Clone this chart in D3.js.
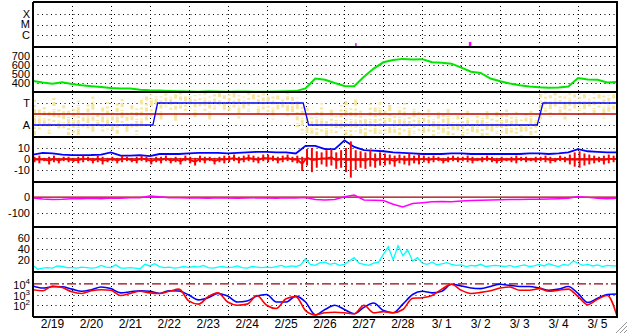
<!DOCTYPE html>
<html>
<head>
<meta charset="utf-8">
<script src="https://cdn.jsdelivr.net/npm/d3@7"></script>
<style>
  body { margin: 0; background: #fff; }
  svg { display: block; font-family: "Liberation Sans", Arial, sans-serif; }
</style>
</head>
<body>
<div id="chart"></div>
<script>
// ---- data (day 0 = 2/19 00:00, 15 days) ----
var dayLabels = ["2/19","2/20","2/21","2/22","2/23","2/24","2/25","2/26","2/27","2/28","3/ 1","3/ 2","3/ 3","3/ 4","3/ 5"];

// X-ray events (day, flux W/m2)
var flareDay = [8.3, 11.22];
var flareFlux = [1.7e-7, 2.2e-7];

// solar wind speed, every 6h (km/s)
var speed6h = [422,405,392,408, 390,375,365,355, 345,340,338,325, 320,318,312,308,
               306,304,308,305, 303,305,306,302, 304,306,308,310, 340,450,435,400,
               368,365,470,560, 630,655,668,660, 665,630,625,615, 570,525,512,450,
               420,395,375,362, 352,348,350,360, 455,440,435,405, 412];

// sector polarity (T = 1, A = -1)
var sectorDay = [0, 3.08, 3.2, 6.94, 7.08, 12.95, 13.1, 15];
var sectorVal = [-1, -1, 1, 1, -1, -1, 1, 1];

// phi angle spread per 3h bin (same units as sector)
var phiLo = [-1.9,-1.5,-1.2,-1.8,-1.0,-1.6,-1.3,-1.9, -1.7,-1.9,-1.2,-1.5,-1.8,-1.0,-1.6,-1.4,
             -1.5,-1.8,-0.9,-1.7,-1.2,-1.9,-1.4,-0.6, -0.2,0.4,-0.5,0.6,0.2,-0.8,0.5,0.3,
             0.5,-0.3,0.7,0.2,-0.6,0.4,0.8,0.1, 0.3,0.6,-0.4,0.5,0.2,0.7,-0.2,0.4,
             0.2,-0.5,0.4,0.6,-0.3,0.1,-1.2,-1.8, -2.0,-1.8,-1.9,-1.6,-2.0,-1.7,-1.9,-1.5,
             -1.9,-2.0,-1.6,-1.8,-2.0,-1.7,-1.9,-1.8, -1.8,-2.0,-1.7,-1.9,-1.6,-2.0,-1.8,-1.7,
             -1.9,-1.6,-2.0,-1.8,-1.7,-1.9,-2.0,-1.6, -2.0,-1.8,-1.9,-1.7,-2.0,-1.9,-1.6,-1.8,
             -1.9,-2.0,-1.7,-1.8,-2.0,-1.6,-1.9,-1.8, -0.6,0.2,-0.3,0.4,0.1,-0.5,0.3,0.5,
             0.3,-0.2,0.5,0.1,0.6,-0.4,0.2,0.4, 0.2];
var phiHi = [1.3,0.6,0.9,0.2,1.5,0.4,0.8,0.3, 0.5,1.2,0.3,0.9,1.6,0.2,0.7,1.1,
             0.4,1.0,1.5,0.3,0.8,0.5,1.3,1.6, 1.8,1.9,1.6,1.9,1.7,1.8,1.9,1.6,
             1.9,1.7,1.8,1.9,1.6,1.8,1.9,1.7, 1.8,1.9,1.7,1.6,1.9,1.8,1.7,1.9,
             1.7,1.9,1.8,1.6,1.9,1.7,1.5,0.9, 0.6,-0.3,0.2,1.0,-0.5,0.4,-0.2,0.8,
             1.2,0.5,1.4,0.3,-0.4,0.9,0.6,1.1, 0.4,0.9,-0.2,0.6,1.0,-0.1,0.5,0.2,
             -0.3,0.4,-0.5,0.2,-0.1,0.6,-0.4,0.1, -0.2,0.3,-0.6,0.1,-0.3,0.5,-0.4,0.2,
             -0.1,0.4,-0.3,0.2,-0.5,0.1,0.3,-0.2, 1.8,1.9,1.7,1.9,1.8,1.6,1.9,1.8,
             1.9,1.8,1.7,1.9,1.8,1.9,1.7,1.8, 1.8];

// |B| every 6h (nT)
var bt6h = [4,5.5,5,4, 3.5,3.5,3.6,4, 6,3,3,3.5, 2.5,4.5,4.5,4.5,
            5,5.5,5.5,5.5, 5,5.5,6,6.5, 6.5,6,6,5, 12,12,9,9,
            17,11,8,7.5, 7,6,5.5,5, 4.5,4.5,4.5,5, 5,4.5,4.5,4.5,
            4.5,4.5,4.5,5, 5,4.5,5,6, 9,7,6.5,6, 6];

// Bz low / high per 3h bin (nT)
var bzLo = [-3,-4,-2,-5,-3,-4,-2,-3, -3,-4,-3,-2,-4,-3,-5,-3, -2,-4,-3,-2,-3,-4,-2,-3,
            -5,-3,-4,-2,-4,-3,-5,-2, -4,-6,-3,-4,-2,-5,-3,-4, -3,-2,-4,-3,-2,-3,-4,-2,
            -3,-2,-4,-3,-2,-3,-4,-11, -6,-12,-8,-5,-7,-6,-9,-8, -12,-17,-10,-8,-9,-7,-8,-6,
            -6,-5,-7,-4,-5,-6,-4,-5, -3,-4,-3,-2,-4,-3,-2,-3, -2,-3,-4,-2,-3,-2,-3,-4,
            -3,-2,-3,-4,-2,-3,-2,-3, -2,-3,-4,-3,-2,-3,-5,-7, -8,-6,-5,-4,-3,-5,-4,-3, -3];
var bzHi = [2,3,1,2,3,1,2,2, 1,2,3,2,1,3,2,1, 2,1,3,2,1,2,3,2,
            1,2,2,3,1,2,1,3, 2,1,3,2,2,1,2,3, 3,4,2,3,4,3,2,4,
            4,3,2,3,4,2,3,2, 9,10,7,6,8,9,6,8, 10,16,8,7,6,8,5,6,
            5,4,3,4,3,5,3,4, 3,2,3,2,1,2,3,2, 2,3,2,1,2,3,2,1,
            2,1,2,3,2,2,1,2, 2,3,2,1,3,2,4,6, 7,5,4,3,2,3,4,3, 2];

// Dst every 6h (nT)
var dst6h = [-6,-12,-15,-14, -10,-10,-8,-10, -6,-7,-5,-4, 6,2,-4,-5,
             -6,-6,-7,-5, -6,-8,-6,-5, -6,-7,-5,-6, -3,-15,-18,-15,
             2,12,-18,-20, -22,-45,-62,-40, -35,-30,-28,-30, -25,-22,-20,-18,
             -17,-16,-15,-14, -13,-12,-10,-8, 4,-2,-8,-10, -8];

// ap index every 3h
var ap3h = [10,3,5,6,5,9,8,6, 6,5,7,6,5,6,10,7, 6,11,5,5,6,5,4,12,
            9,13,8,6,7,5,6,8, 6,8,7,10,6,5,7,8, 6,7,9,6,5,8,7,6,
            7,6,8,10,7,9,8,11, 22,12,10,15,16,12,14,10, 12,18,24,14,12,10,14,16,
            30,44,20,46,28,38,18,24, 14,12,16,11,13,15,12,10, 11,8,10,9,12,8,9,10,
            9,8,10,7,9,11,8,9, 12,9,13,10,8,12,10,18, 14,10,12,9,11,8,10,9, 9];

// >2 MeV electron flux, log10, every 6h
var eBlueLog = [3.8,3.6,3.72,3.72, 3.5,3.3,3.45,3.7, 3.55,3.15,3.25,3.35, 3.3,3.1,3.35,3.32,
                2.95,2.5,2.7,3.1, 2.85,2.3,2.4,2.85, 3.0,2.3,2.3,2.85, 2.3,1.1,1.6,2.0,
                1.6,1.2,1.8,2.2, 1.5,1.3,2.1,3.0, 3.3,3.15,3.3,3.95, 3.8,3.6,3.55,3.75,
                3.95,3.85,3.75,3.75, 3.6,3.4,3.5,3.75, 3.1,2.25,2.65,3.0, 3.05];
var eRedLog = [3.45,3.35,3.8,3.65, 3.25,3.1,3.35,3.45, 3.4,2.9,3.1,3.3, 3.15,3.1,3.3,3.5,
               2.4,2.1,2.8,3.15, 2.3,2.0,2.1,2.9, 2.0,1.7,2.6,2.8, 1.5,1.1,1.3,1.35,
               1.3,1.2,2.0,1.3, 1.4,1.3,1.6,2.65, 2.7,2.9,3.5,3.95, 3.4,3.1,3.2,3.35,
               3.6,3.7,3.4,3.4, 3.55,3.3,3.4,3.5, 2.8,2.05,2.55,2.9, 1.0];

// ---- layout ----
var W = 628, H = 334;
var left = 33, right = 617;
var bounds = [2, 47, 92, 137, 182, 227, 272, 317];

var svg = d3.select("#chart").append("svg")
    .attr("width", W).attr("height", H);

var x = d3.scaleLinear().domain([0, 15]).range([left, right]);

function panel(i) { return [bounds[i + 1], bounds[i]]; }

var yFlux = d3.scaleLog().domain([Math.pow(10, -7.14), Math.pow(10, -2.86)]).range(panel(0));
var ySpeed = d3.scaleLinear().domain([300, 800]).range(panel(1));
var ySector = d3.scaleLinear().domain([-2.09, 2]).range(panel(2));
var yBz = d3.scaleLinear().domain([-21, 20]).range(panel(3));
var yDst = d3.scaleLinear().domain([-187, 94]).range(panel(4));
var yAp = d3.scaleLinear().domain([-2, 80]).range(panel(5));
var yE = d3.scaleLinear().domain([0.9, 5.1]).range(panel(6));

// clip paths per panel
var defs = svg.append("defs");
for (var i = 0; i < 7; i++) {
  defs.append("clipPath").attr("id", "clip" + i)
    .append("rect")
    .attr("x", left).attr("y", bounds[i])
    .attr("width", right - left).attr("height", bounds[i + 1] - bounds[i]);
}

// ---- grid ----
var grid = svg.append("g");
function hgrid(y) {
  grid.append("line")
    .attr("x1", left).attr("x2", right).attr("y1", y).attr("y2", y)
    .attr("stroke", "#000").attr("stroke-width", 1)
    .attr("stroke-dasharray", "1,3.5");
}
[1e-4, 1e-5, 1e-6].forEach(function (v) { hgrid(Math.round(yFlux(v)) + 0.5); });
[700, 600, 500, 400].forEach(function (v) { hgrid(Math.round(ySpeed(v)) + 0.5); });
[1, -1].forEach(function (v) { hgrid(Math.round(ySector(v)) + 0.5); });
[10, -10].forEach(function (v) { hgrid(Math.round(yBz(v)) + 0.5); });
[-100].forEach(function (v) { hgrid(Math.round(yDst(v)) + 0.5); });
[60, 40, 20].forEach(function (v) { hgrid(Math.round(yAp(v)) + 0.5); });
[3, 2].forEach(function (v) { hgrid(Math.round(yE(v)) + 0.5); });

d3.range(1, 15).forEach(function (d) {
  grid.append("line")
    .attr("x1", Math.round(x(d)) + 0.5).attr("x2", Math.round(x(d)) + 0.5)
    .attr("y1", bounds[0]).attr("y2", bounds[7])
    .attr("stroke", "#000").attr("stroke-width", 1)
    .attr("stroke-dasharray", "1,3");
});

// ---- data ----
function t6(i) { return i * 0.25; }
function t3(i) { return i * 0.125; }

// X-ray events
svg.append("g").attr("clip-path", "url(#clip0)")
  .selectAll("rect").data(flareDay).enter().append("rect")
  .attr("x", function (d) { return x(d) - 1; })
  .attr("y", function (d, i) { return yFlux(flareFlux[i]); })
  .attr("width", function (d, i) { return i === 0 ? 1.5 : 2.5; })
  .attr("height", function (d, i) { return bounds[1] - yFlux(flareFlux[i]); })
  .attr("fill", "#ff00ff");

// speed
svg.append("path").attr("clip-path", "url(#clip1)")
  .datum(speed6h)
  .attr("d", d3.line().x(function (d, i) { return x(t6(i)); }).y(function (d) { return ySpeed(d); }))
  .attr("fill", "none").attr("stroke", "#00e600").attr("stroke-width", 2);

// phi spread (speckled bars)
svg.append("g").attr("clip-path", "url(#clip2)")
  .selectAll("line").data(phiLo).enter().append("line")
  .attr("x1", function (d, i) { return x(t3(i)) + 1.5; })
  .attr("x2", function (d, i) { return x(t3(i)) + 1.5; })
  .attr("y1", function (d) { return ySector(d); })
  .attr("y2", function (d, i) { return ySector(phiHi[i]); })
  .attr("stroke", "#f8e69e").attr("stroke-width", 3)
  .attr("stroke-dasharray", "4,2,2,3,6,1,1,3")
  .attr("stroke-dashoffset", function (d, i) { return (i * 5) % 17; });

// sector reference line + step
svg.append("line")
  .attr("x1", left).attr("x2", right).attr("y1", ySector(0)).attr("y2", ySector(0))
  .attr("stroke", "#c00000").attr("stroke-width", 1.3);
svg.append("path").attr("clip-path", "url(#clip2)")
  .datum(sectorVal)
  .attr("d", d3.line().x(function (d, i) { return x(sectorDay[i]); }).y(function (d) { return ySector(d); }))
  .attr("fill", "none").attr("stroke", "#0000ff").attr("stroke-width", 1.3);

// Bz zero line
svg.append("line")
  .attr("x1", left).attr("x2", right).attr("y1", yBz(0)).attr("y2", yBz(0))
  .attr("stroke", "#a00000").attr("stroke-width", 1.3);

// Bt
svg.append("path").attr("clip-path", "url(#clip3)")
  .datum(bt6h)
  .attr("d", d3.line().x(function (d, i) { return x(t6(i)); }).y(function (d) { return yBz(d); }))
  .attr("fill", "none").attr("stroke", "#0000ff").attr("stroke-width", 1.8);

// Bz: range bar per bin + connecting line through bin centres
var gBz = svg.append("g").attr("clip-path", "url(#clip3)");
gBz.selectAll("line").data(bzLo).enter().append("line")
  .attr("x1", function (d, i) { return x(t3(i)) + 1.5; })
  .attr("x2", function (d, i) { return x(t3(i)) + 1.5; })
  .attr("y1", function (d) { return yBz(d); })
  .attr("y2", function (d, i) { return yBz(bzHi[i]); })
  .attr("stroke", "#ff0000").attr("stroke-width", 2);
gBz.append("path")
  .datum(bzLo)
  .attr("d", d3.line().x(function (d, i) { return x(t3(i)) + 1.5; })
    .y(function (d, i) { return yBz((d + bzHi[i]) / 2); }))
  .attr("fill", "none").attr("stroke", "#ff0000").attr("stroke-width", 1.8);

// Dst
svg.append("line")
  .attr("x1", left).attr("x2", right).attr("y1", yDst(0)).attr("y2", yDst(0))
  .attr("stroke", "#a00000").attr("stroke-width", 1.3);
svg.append("path").attr("clip-path", "url(#clip4)")
  .datum(dst6h)
  .attr("d", d3.line().x(function (d, i) { return x(t6(i)); }).y(function (d) { return yDst(d); }))
  .attr("fill", "none").attr("stroke", "#ff00ff").attr("stroke-width", 1.5);

// ap
svg.append("path").attr("clip-path", "url(#clip5)")
  .datum(ap3h)
  .attr("d", d3.line().x(function (d, i) { return x(t3(i)); }).y(function (d) { return yAp(d); }))
  .attr("fill", "none").attr("stroke", "#00ffff").attr("stroke-width", 1.3);

// electrons
svg.append("line")
  .attr("x1", left).attr("x2", right).attr("y1", yE(4)).attr("y2", yE(4))
  .attr("stroke", "#a00000").attr("stroke-width", 1.3)
  .attr("stroke-dasharray", "9,3,2,3");
[[eBlueLog, "#0000ff"], [eRedLog, "#ff0000"]].forEach(function (s) {
  svg.append("path").attr("clip-path", "url(#clip6)")
    .datum(s[0])
    .attr("d", d3.line().curve(d3.curveMonotoneX).x(function (d, i) { return x(t6(i)); }).y(function (d) { return yE(d); }))
    .attr("fill", "none").attr("stroke", s[1]).attr("stroke-width", 1.6);
});

// ---- frame ----
var frame = svg.append("g").attr("stroke", "#000").attr("stroke-width", 2);
bounds.forEach(function (b) {
  frame.append("line").attr("x1", left).attr("x2", right + 1).attr("y1", b).attr("y2", b);
});
frame.append("line").attr("x1", left).attr("x2", left).attr("y1", bounds[0]).attr("y2", bounds[7]);
frame.append("line").attr("x1", right).attr("x2", right).attr("y1", bounds[0]).attr("y2", bounds[7]);

// ---- labels ----
var lab = svg.append("g").attr("font-size", 11).attr("fill", "#000").attr("text-anchor", "end");
function yLabel(y, txt) {
  lab.append("text").attr("x", 30).attr("y", y).attr("dy", "0.36em").text(txt);
}
yLabel(yFlux(1e-4), "X"); yLabel(yFlux(1e-5), "M"); yLabel(yFlux(1e-6), "C");
[700, 600, 500, 400].forEach(function (v) { yLabel(ySpeed(v), v); });
yLabel(ySector(1), "T"); yLabel(ySector(-1), "A");
[10, 0, -10].forEach(function (v) { yLabel(yBz(v), v); });
[0, -100].forEach(function (v) { yLabel(yDst(v), v); });
[60, 40, 20].forEach(function (v) { yLabel(yAp(v), v); });
[4, 3, 2].forEach(function (v) {
  var t = lab.append("text").attr("x", 30).attr("y", yE(v) + 5);
  t.append("tspan").text("10");
  t.append("tspan").attr("font-size", 8).attr("dy", -5).text(v);
});

svg.append("g").attr("font-size", 12).attr("text-anchor", "middle")
  .selectAll("text").data(dayLabels).enter().append("text")
  .attr("x", function (d, i) { return x(i + 0.5); })
  .attr("y", 328)
  .text(function (d) { return d; });

// window resize grip
var grip = svg.append("g").attr("stroke-width", 1);
[[616, 333], [620, 333], [624, 333]].forEach(function (p) {
  var len = 627 - p[0];
  grip.append("line").attr("x1", p[0]).attr("y1", p[1]).attr("x2", 627).attr("y2", p[1] - len)
    .attr("stroke", "#999");
  grip.append("line").attr("x1", p[0] + 1).attr("y1", p[1]).attr("x2", 627).attr("y2", p[1] - len + 1)
    .attr("stroke", "#fff");
});
</script>
</body>
</html>
